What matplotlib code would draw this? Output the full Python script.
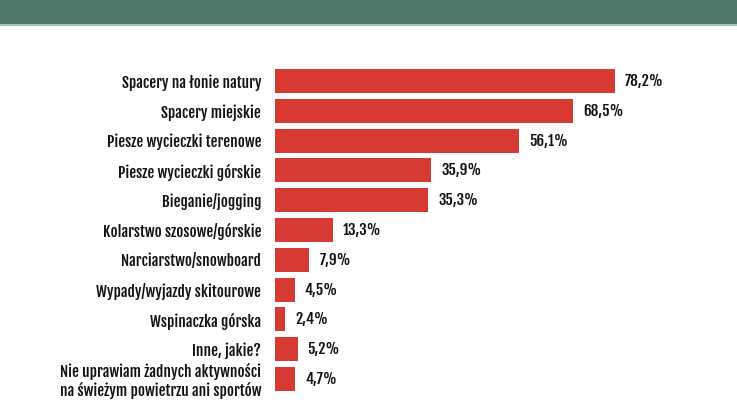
import matplotlib.pyplot as plt
from matplotlib.patches import Rectangle

categories = [
    'Spacery na łonie natury',
    'Spacery miejskie',
    'Piesze wycieczki terenowe',
    'Piesze wycieczki górskie',
    'Bieganie/jogging',
    'Kolarstwo szosowe/górskie',
    'Narciarstwo/snowboard',
    'Wypady/wyjazdy skitourowe',
    'Wspinaczka górska',
    'Inne, jakie?',
    'Nie uprawiam żadnych aktywności\nna świeżym powietrzu ani sportów',
]
values = [78.2, 68.5, 56.1, 35.9, 35.3, 13.3, 7.9, 4.5, 2.4, 5.2, 4.7]
value_labels = ['78,2%', '68,5%', '56,1%', '35,9%', '35,3%', '13,3%',
                '7,9%', '4,5%', '2,4%', '5,2%', '4,7%']

plt.rcParams['font.family'] = ['Fjalla One', 'DejaVu Sans']

fig = plt.figure(figsize=(7.37, 4.16), dpi=100)
fig.patch.set_facecolor('white')

# zielony pasek u góry
fig.patches.append(Rectangle((0, 1 - 24 / 416), 1, 24 / 416, transform=fig.transFigure,
                             facecolor='#4f786a', edgecolor='none'))
fig.patches.append(Rectangle((0, 1 - 26 / 416), 1, 2 / 416, transform=fig.transFigure,
                             facecolor='#a9bfb7', edgecolor='none'))

ax = fig.add_axes([275 / 737, 1 - 393.9 / 416, 434.8 / 737, 327.8 / 416])
y = list(range(len(categories)))
ax.barh(y, values, height=0.8, color='#d63a33')
ax.set_xlim(0, 100)
ax.set_ylim(len(categories) - 0.5, -0.5)

for i, (v, lab) in enumerate(zip(values, value_labels)):
    ax.text(v + 2.3, i, lab, va='center', ha='left', fontsize=10.9, color='#111111')

ax.set_yticks(y)
ax.set_yticklabels(categories, fontsize=10.9, color='#111111', linespacing=1.1)
ax.tick_params(axis='y', length=0, pad=10)
ax.set_xticks([])
for s in ax.spines.values():
    s.set_visible(False)

fig.savefig('out.png', dpi=100)
